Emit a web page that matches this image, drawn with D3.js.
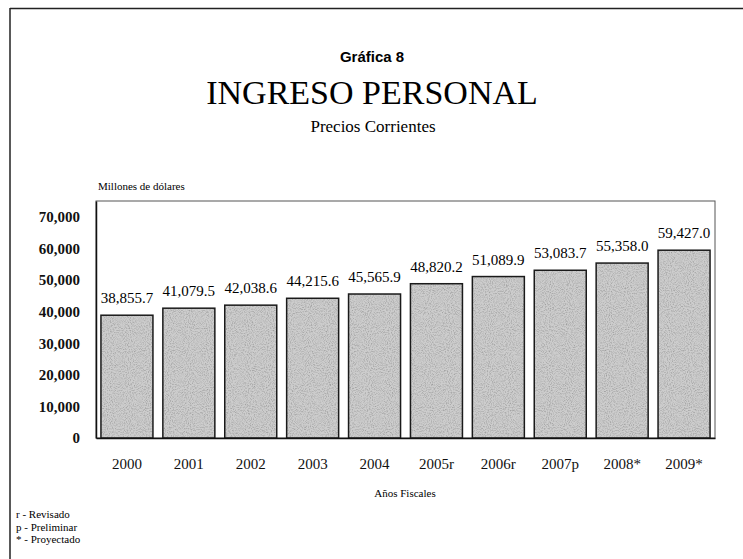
<!DOCTYPE html>
<html>
<head>
<meta charset="utf-8">
<script src="https://cdn.jsdelivr.net/npm/d3@7"></script>
<style>
  body { margin: 0; background: #fff; }
  svg { display: block; }
</style>
</head>
<body>
<svg id="chart" width="743" height="559"></svg>
<script>
// datos de la gráfica
const years = ["2000", "2001", "2002", "2003", "2004", "2005r", "2006r", "2007p", "2008*", "2009*"];
const values = [38855.7, 41079.5, 42038.6, 44215.6, 45565.9, 48820.2, 51089.9, 53083.7, 55358.0, 59427.0];
const yTicks = [0, 10000, 20000, 30000, 40000, 50000, 60000, 70000];
const notes = ["r - Revisado", "p - Preliminar", "* - Proyectado"];

const serif = "'Liberation Serif', 'DejaVu Serif', serif";
const sans = "'Liberation Sans', Arial, sans-serif";

const margin = { top: 201, left: 96, right: 28, bottom: 121 };
const width = 743, height = 559;

const svg = d3.select("#chart");

// textura gris de las barras
const defs = svg.append("defs");
const filter = defs.append("filter")
  .attr("id", "grain")
  .attr("x", 0).attr("y", 0).attr("width", 1).attr("height", 1);
filter.append("feTurbulence")
  .attr("type", "fractalNoise")
  .attr("baseFrequency", 0.95)
  .attr("numOctaves", 2)
  .attr("seed", 3)
  .attr("result", "noise");
filter.append("feColorMatrix")
  .attr("in", "noise")
  .attr("type", "matrix")
  .attr("values", "0 0 0 0 0.3  0 0 0 0 0.3  0 0 0 0 0.3  0 0 0 -1.8 1.06")
  .attr("result", "dots");
filter.append("feComposite")
  .attr("in", "dots")
  .attr("in2", "SourceGraphic")
  .attr("operator", "in")
  .attr("result", "dotsIn");
filter.append("feMerge")
  .call(m => {
    m.append("feMergeNode").attr("in", "SourceGraphic");
    m.append("feMergeNode").attr("in", "dotsIn");
  });

// marco exterior (solo arriba e izquierda visibles)
svg.append("line")
  .attr("x1", 10).attr("x2", width).attr("y1", 8.5).attr("y2", 8.5)
  .attr("stroke", "#222").attr("stroke-width", 1.5);
svg.append("line")
  .attr("x1", 10).attr("x2", 10).attr("y1", 8).attr("y2", height)
  .attr("stroke", "#222").attr("stroke-width", 1.5);

// títulos
svg.append("text")
  .attr("x", 372).attr("y", 62)
  .attr("text-anchor", "middle")
  .attr("font-family", sans).attr("font-weight", "bold").attr("font-size", 15)
  .text("Gráfica 8");
svg.append("text")
  .attr("x", 372).attr("y", 104)
  .attr("text-anchor", "middle")
  .attr("font-family", serif).attr("font-size", 34)
  .text("INGRESO PERSONAL");
svg.append("text")
  .attr("x", 373).attr("y", 132)
  .attr("text-anchor", "middle")
  .attr("font-family", serif).attr("font-size", 17)
  .text("Precios Corrientes");

const x = d3.scaleBand()
  .domain(years)
  .range([margin.left, width - margin.right])
  .paddingInner(0.16)
  .paddingOuter(0.08);

const y = d3.scaleLinear()
  .domain([0, 75000])
  .range([height - margin.bottom, margin.top]);

// caja del área de trazado
svg.append("rect")
  .attr("x", margin.left).attr("y", margin.top)
  .attr("width", width - margin.right - margin.left)
  .attr("height", height - margin.bottom - margin.top)
  .attr("fill", "none")
  .attr("stroke", "#555").attr("stroke-width", 1);

svg.append("text")
  .attr("x", 98).attr("y", 190)
  .attr("font-family", serif).attr("font-size", 11)
  .text("Millones de dólares");

// barras
svg.append("g")
  .selectAll("rect")
  .data(values)
  .join("rect")
  .attr("x", (d, i) => x(years[i]))
  .attr("y", d => y(d))
  .attr("width", x.bandwidth())
  .attr("height", d => y(0) - y(d))
  .attr("fill", "#cdcdcd")
  .attr("filter", "url(#grain)");
svg.append("g")
  .selectAll("rect")
  .data(values)
  .join("rect")
  .attr("x", (d, i) => x(years[i]))
  .attr("y", d => y(d))
  .attr("width", x.bandwidth())
  .attr("height", d => y(0) - y(d))
  .attr("fill", "none")
  .attr("stroke", "#1a1a1a")
  .attr("stroke-width", 1.5);

// etiquetas de valores
svg.append("g")
  .selectAll("text")
  .data(values)
  .join("text")
  .attr("x", (d, i) => x(years[i]) + x.bandwidth() / 2)
  .attr("y", d => y(d) - 12)
  .attr("text-anchor", "middle")
  .attr("font-family", serif).attr("font-size", 15)
  .text(d => d3.format(",.1f")(d));

// eje y
const yAxis = svg.append("g")
  .attr("transform", `translate(${margin.left},0)`)
  .call(d3.axisLeft(y).tickValues(yTicks).tickSize(0).tickPadding(16).tickFormat(d3.format(",")));
yAxis.select(".domain").attr("stroke", "#111").attr("stroke-width", 1.5);
yAxis.selectAll("text")
  .attr("font-family", serif).attr("font-size", 15).attr("font-weight", "bold")
  .attr("fill", "#111");

// eje x
const xAxis = svg.append("g")
  .attr("transform", `translate(0,${height - margin.bottom})`)
  .call(d3.axisBottom(x).tickSize(0).tickPadding(20));
xAxis.select(".domain").attr("stroke", "#111").attr("stroke-width", 1.5);
xAxis.selectAll("text")
  .attr("font-family", serif).attr("font-size", 15)
  .attr("fill", "#111");

svg.append("text")
  .attr("x", 405).attr("y", 497)
  .attr("text-anchor", "middle")
  .attr("font-family", serif).attr("font-size", 11)
  .text("Años Fiscales");

// notas
svg.append("g")
  .selectAll("text")
  .data(notes)
  .join("text")
  .attr("x", 16)
  .attr("y", (d, i) => 518 + i * 12.5)
  .attr("font-family", serif).attr("font-size", 11)
  .text(d => d);
</script>
</body>
</html>
